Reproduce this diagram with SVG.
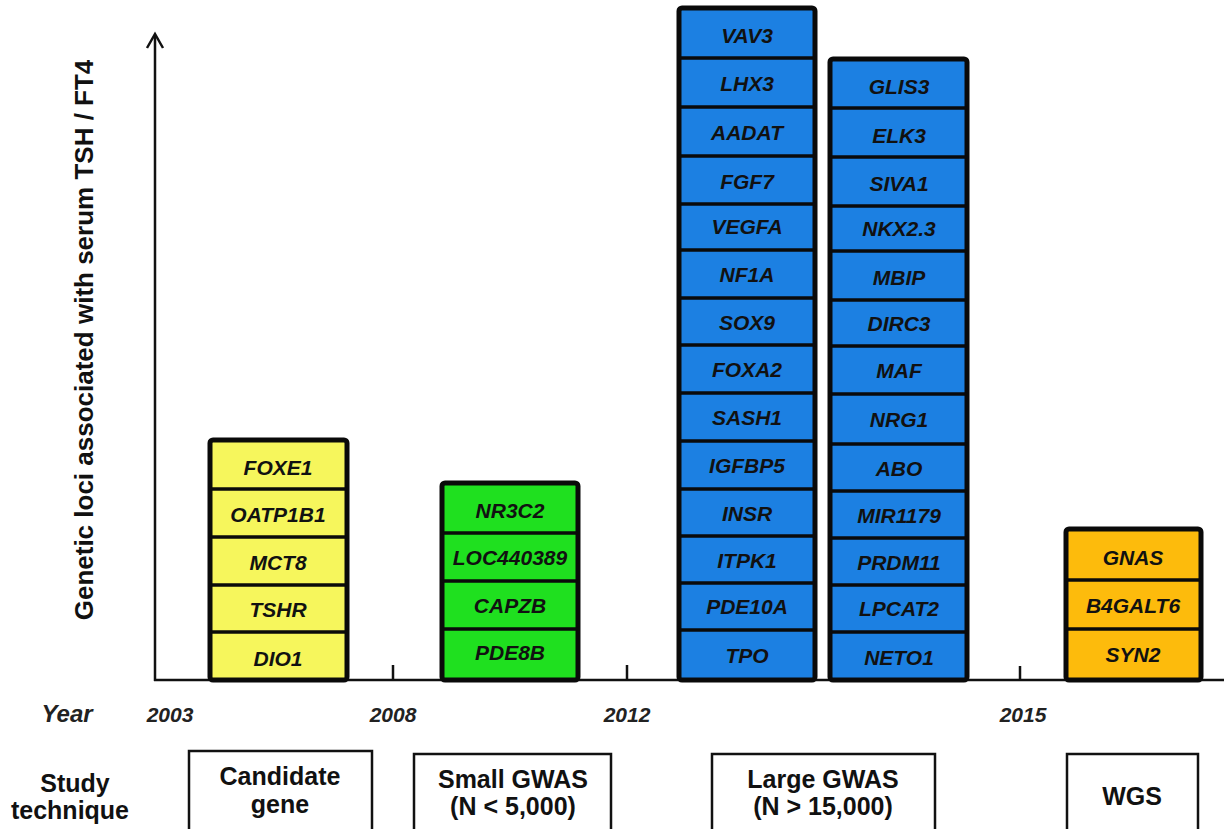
<svg xmlns="http://www.w3.org/2000/svg" width="1224" height="829" viewBox="0 0 1224 829">
<style>
.outer{stroke:#0a0a0a;stroke-width:5;}
.div{stroke:#0a0a0a;stroke-width:3.5;}
.gene{font-family:"Liberation Sans",Arial,sans-serif;font-weight:bold;font-style:italic;font-size:21px;fill:#111;text-anchor:middle;}
.year{font-family:"Liberation Sans",Arial,sans-serif;font-weight:bold;font-style:italic;font-size:21px;fill:#222;text-anchor:middle;}
.lbl{font-family:"Liberation Sans",Arial,sans-serif;font-weight:bold;font-size:25px;fill:#111;text-anchor:middle;}
.box{fill:#fff;stroke:#111;stroke-width:2.5;}
.axis{stroke:#111;stroke-width:2.5;fill:none;}
.yellow{fill:#F6F65C;}
.green{fill:#1FE01F;}
.blue{fill:#1C80E2;}
.orange{fill:#FDBB0C;}
</style>
<rect width="1224" height="829" fill="#fff"/>

<g id="connectors">
  <line class="axis" x1="155" y1="681" x2="155" y2="35"/>
  <polyline class="axis" points="147,48 155,34 163,48"/>
  <line class="axis" x1="154" y1="680" x2="1224" y2="680"/>
  <line class="axis" x1="393" y1="665" x2="393" y2="680"/>
  <line class="axis" x1="627" y1="665" x2="627" y2="680"/>
  <line class="axis" x1="1020" y1="666" x2="1020" y2="680"/>
</g>

<g id="y-axis-label">
  <text class="lbl" font-size="26" transform="translate(93,340) rotate(-90)" style="font-size:26px">Genetic loci associated with serum TSH / FT4</text>
</g>

<g id="stack-candidate">
  <rect class="outer yellow" x="210" y="440" width="137" height="240" rx="3"/>
  <line class="div" x1="210" y1="489" x2="347" y2="489"/>
  <line class="div" x1="210" y1="537" x2="347" y2="537"/>
  <line class="div" x1="210" y1="585" x2="347" y2="585"/>
  <line class="div" x1="210" y1="632" x2="347" y2="632"/>
  <text class="gene" x="278" y="474.5">FOXE1</text>
  <text class="gene" x="278" y="521.5">OATP1B1</text>
  <text class="gene" x="278" y="569.5">MCT8</text>
  <text class="gene" x="278" y="616.5">TSHR</text>
  <text class="gene" x="278" y="665.5">DIO1</text>
</g>

<g id="stack-small-gwas">
  <rect class="outer green" x="442" y="483" width="136" height="197" rx="3"/>
  <line class="div" x1="442" y1="533" x2="578" y2="533"/>
  <line class="div" x1="442" y1="581" x2="578" y2="581"/>
  <line class="div" x1="442" y1="629" x2="578" y2="629"/>
  <text class="gene" x="510" y="517.5">NR3C2</text>
  <text class="gene" x="510" y="564.5">LOC440389</text>
  <text class="gene" x="510" y="612.5">CAPZB</text>
  <text class="gene" x="510" y="659.5">PDE8B</text>
</g>

<g id="stack-large-gwas-1">
  <rect class="outer blue" x="679" y="8" width="136" height="672" rx="3"/>
  <line class="div" x1="679" y1="58" x2="815" y2="58"/>
  <line class="div" x1="679" y1="107" x2="815" y2="107"/>
  <line class="div" x1="679" y1="156" x2="815" y2="156"/>
  <line class="div" x1="679" y1="204" x2="815" y2="204"/>
  <line class="div" x1="679" y1="250" x2="815" y2="250"/>
  <line class="div" x1="679" y1="298" x2="815" y2="298"/>
  <line class="div" x1="679" y1="345" x2="815" y2="345"/>
  <line class="div" x1="679" y1="393" x2="815" y2="393"/>
  <line class="div" x1="679" y1="441" x2="815" y2="441"/>
  <line class="div" x1="679" y1="489" x2="815" y2="489"/>
  <line class="div" x1="679" y1="536" x2="815" y2="536"/>
  <line class="div" x1="679" y1="583" x2="815" y2="583"/>
  <line class="div" x1="679" y1="630" x2="815" y2="630"/>
  <text class="gene" x="747" y="42.5">VAV3</text>
  <text class="gene" x="747" y="90.5">LHX3</text>
  <text class="gene" x="747" y="139.5">AADAT</text>
  <text class="gene" x="747" y="188.5">FGF7</text>
  <text class="gene" x="747" y="233.5">VEGFA</text>
  <text class="gene" x="747" y="281.5">NF1A</text>
  <text class="gene" x="747" y="329.5">SOX9</text>
  <text class="gene" x="747" y="376.5">FOXA2</text>
  <text class="gene" x="747" y="424.5">SASH1</text>
  <text class="gene" x="747" y="472.5">IGFBP5</text>
  <text class="gene" x="747" y="520.5">INSR</text>
  <text class="gene" x="747" y="567.5">ITPK1</text>
  <text class="gene" x="747" y="613.5">PDE10A</text>
  <text class="gene" x="747" y="662.5">TPO</text>
</g>

<g id="stack-large-gwas-2">
  <rect class="outer blue" x="830" y="59" width="137" height="621" rx="3"/>
  <line class="div" x1="830" y1="108" x2="967" y2="108"/>
  <line class="div" x1="830" y1="157" x2="967" y2="157"/>
  <line class="div" x1="830" y1="206" x2="967" y2="206"/>
  <line class="div" x1="830" y1="251" x2="967" y2="251"/>
  <line class="div" x1="830" y1="300" x2="967" y2="300"/>
  <line class="div" x1="830" y1="346" x2="967" y2="346"/>
  <line class="div" x1="830" y1="394" x2="967" y2="394"/>
  <line class="div" x1="830" y1="444" x2="967" y2="444"/>
  <line class="div" x1="830" y1="491" x2="967" y2="491"/>
  <line class="div" x1="830" y1="538" x2="967" y2="538"/>
  <line class="div" x1="830" y1="585" x2="967" y2="585"/>
  <line class="div" x1="830" y1="632" x2="967" y2="632"/>
  <text class="gene" x="899" y="93.5">GLIS3</text>
  <text class="gene" x="899" y="142.5">ELK3</text>
  <text class="gene" x="899" y="190.5">SIVA1</text>
  <text class="gene" x="899" y="235.5">NKX2.3</text>
  <text class="gene" x="899" y="284.5">MBIP</text>
  <text class="gene" x="899" y="330.5">DIRC3</text>
  <text class="gene" x="899" y="377.5">MAF</text>
  <text class="gene" x="899" y="426.5">NRG1</text>
  <text class="gene" x="899" y="475.5">ABO</text>
  <text class="gene" x="899" y="522.5">MIR1179</text>
  <text class="gene" x="899" y="569.5">PRDM11</text>
  <text class="gene" x="899" y="615.5">LPCAT2</text>
  <text class="gene" x="899" y="664.5">NETO1</text>
</g>

<g id="stack-wgs">
  <rect class="outer orange" x="1066" y="529" width="135" height="151" rx="3"/>
  <line class="div" x1="1066" y1="580" x2="1201" y2="580"/>
  <line class="div" x1="1066" y1="629" x2="1201" y2="629"/>
  <text class="gene" x="1133" y="564.5">GNAS</text>
  <text class="gene" x="1133" y="612.5">B4GALT6</text>
  <text class="gene" x="1133" y="661.5">SYN2</text>
</g>

<g id="years">
  <text class="year" x="67" y="722" style="font-size:24px">Year</text>
  <text class="year" x="170" y="722">2003</text>
  <text class="year" x="393" y="722">2008</text>
  <text class="year" x="627" y="722">2012</text>
  <text class="year" x="1023" y="722">2015</text>
</g>

<g id="study-technique">
  <text class="lbl" x="75" y="792">Study</text>
  <text class="lbl" x="70" y="819">technique</text>
</g>

<g id="box-candidate">
  <rect class="box" x="189" y="751" width="183" height="90"/>
  <text class="lbl" x="280" y="785">Candidate</text>
  <text class="lbl" x="280" y="813">gene</text>
</g>
<g id="box-small-gwas">
  <rect class="box" x="414" y="754" width="197" height="90"/>
  <text class="lbl" x="513" y="788">Small GWAS</text>
  <text class="lbl" x="513" y="815">(N &lt; 5,000)</text>
</g>
<g id="box-large-gwas">
  <rect class="box" x="712" y="754" width="223" height="90"/>
  <text class="lbl" x="823" y="788">Large GWAS</text>
  <text class="lbl" x="823" y="815">(N &gt; 15,000)</text>
</g>
<g id="box-wgs">
  <rect class="box" x="1067" y="754" width="131" height="90"/>
  <text class="lbl" x="1132" y="805">WGS</text>
</g>
</svg>
